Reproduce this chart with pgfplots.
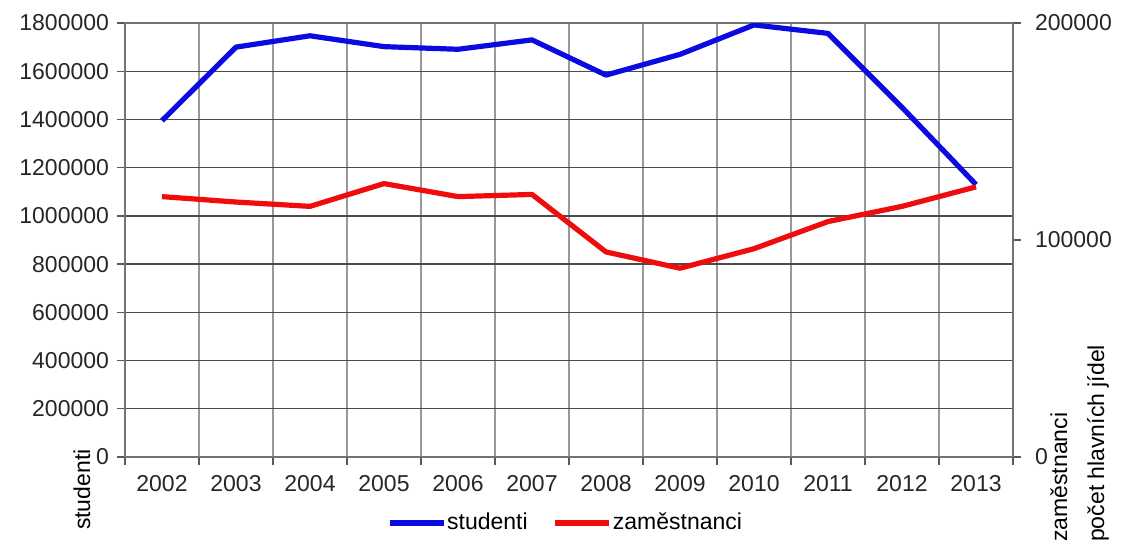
\documentclass[border=0pt]{standalone}
\usepackage{pgfplots}
\pgfplotsset{compat=1.18}
\usepackage{fontspec}
\setmainfont{Liberation Sans}

\definecolor{stud}{RGB}{10,10,225}
\definecolor{zam}{RGB}{238,12,12}

\begin{document}
\fontsize{11.5}{13.5}\selectfont
\begin{tikzpicture}
\useasboundingbox (0,0) rectangle (566.5pt,277pt);
\pgfplotsset{
  every axis/.append style={
    at={(62.5pt,48.5pt)}, anchor=south west,
    scale only axis, width=444pt, height=217pt,
    xmin=-0.5, xmax=11.5, ymin=0,
    tick align=outside,
    major tick length=4pt,
    tick style={black!65, line width=0.7pt},
    axis line style={black!55, line width=1pt},
    /pgf/number format/assume math mode=true,
    /pgf/number format/fixed,
    /pgf/number format/1000 sep={},
    scaled y ticks=false,
    tick label style={black!85},
  },
}
\begin{axis}[
  ymax=1800000,
  ytick={0,200000,400000,600000,800000,1000000,1200000,1400000,1600000,1800000},
  xtick={-0.5,0.5,...,11.5}, xticklabels={},
  extra x ticks={0,1,2,3,4,5,6,7,8,9,10,11},
  extra x tick labels={2002,2003,2004,2005,2006,2007,2008,2009,2010,2011,2012,2013},
  extra x tick style={grid=none, major tick length=0pt},
  xticklabel style={yshift=-5pt},
  xtick pos=bottom, ytick pos=left,
  xmajorgrids, ymajorgrids,
  x grid style={black!40, line width=0.7pt},
  y grid style={black!70, line width=0.7pt},
  ylabel={studenti},
  ylabel style={at={(axis description cs:-0.0484,-0.1866)}, anchor=west},
  legend columns=2,
  legend cell align=left,
  legend image code/.code={\draw[#1] (0pt,0pt) -- (27pt,0pt);},
  legend style={at={(axis description cs:0.4955,-0.152)}, anchor=center,
    draw=none, fill=none, inner sep=0pt,
    nodes={inner xsep=0.5pt},
    /tikz/every even column/.append style={column sep=12pt}},
]
\addplot[stud, line width=2.6pt, line join=round] coordinates {
  (0,1395000) (1,1700000) (2,1747000) (3,1702000) (4,1691000) (5,1730000)
  (6,1584000) (7,1670000) (8,1792000) (9,1757000) (10,1450000) (11,1130000)
};
\addlegendentry{studenti}
\addlegendimage{zam, line width=2.6pt}
\addlegendentry{zaměstnanci}
\end{axis}
\begin{axis}[
  ymax=200000, ytick={0,100000,200000},
  axis y line*=right, axis x line=none,
  yticklabel style={xshift=3pt},
  ylabel={zaměstnanci\\počet hlavních jídel},
  ylabel style={at={(axis description cs:1.0749,-0.214)}, anchor=west,
    align=left, font=\fontsize{11.5}{18.5}\selectfont},
]
\addplot[zam, line width=2.6pt, line join=round] coordinates {
  (0,120000) (1,117500) (2,115500) (3,126000) (4,120000) (5,121000)
  (6,94500) (7,87000) (8,96000) (9,108500) (10,115500) (11,124500)
};
\end{axis}
\end{tikzpicture}
\end{document}
